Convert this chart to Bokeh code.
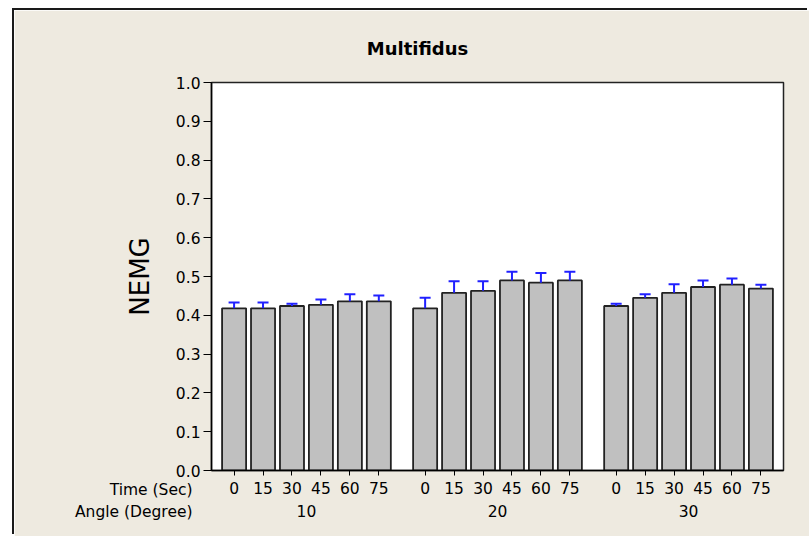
from bokeh.plotting import figure
from bokeh.models import (FactorRange, Range1d, ColumnDataSource, Whisker, TeeHead,
                          FixedTicker, PrintfTickFormatter, Label)
from bokeh.embed import file_html
from bokeh.resources import INLINE

# Normalised EMG of the multifidus by trunk angle and holding time
angles = ["10", "20", "30"]
times = ["0", "15", "30", "45", "60", "75"]

nemg_10 = [0.418, 0.418, 0.424, 0.427, 0.436, 0.436]
nemg_20 = [0.418, 0.458, 0.463, 0.490, 0.484, 0.490]
nemg_30 = [0.424, 0.445, 0.458, 0.473, 0.479, 0.469]

se_10 = [0.015, 0.015, 0.006, 0.014, 0.018, 0.015]
se_20 = [0.027, 0.030, 0.025, 0.022, 0.025, 0.022]
se_30 = [0.006, 0.009, 0.022, 0.017, 0.016, 0.010]

y_ticks = [0.0, 0.1, 0.2, 0.3, 0.4, 0.5, 0.6, 0.7, 0.8, 0.9, 1.0]

FONT = "DejaVu Sans"
BG = "#EEEAE0"

# group names carry a leading blank line so the angle row sits a little
# lower under the time row
factors, means, uppers = [], [], []
for a, m_list, s_list in zip(angles, [nemg_10, nemg_20, nemg_30], [se_10, se_20, se_30]):
    for t, m, s in zip(times, m_list, s_list):
        factors.append(("\n" + a, t))
        means.append(m)
        uppers.append(m + s)

src = ColumnDataSource(data=dict(x=factors, mean=means, upper=uppers))

x_range = FactorRange(*factors, factor_padding=0.0, group_padding=0.6,
                      range_padding=0.0292)

p = figure(x_range=x_range, y_range=Range1d(0, 1), title=None,
           width=795, height=526,
           output_backend="svg", toolbar_location=None,
           background_fill_color="white", border_fill_color=BG,
           min_border_left=197, min_border_top=72,
           min_border_right=26, min_border_bottom=66)
p.margin = (10, 0, 0, 14)
p.styles = {"box-shadow": "-2px -2px 0px 0px #1a1a1a"}

p.outline_line_color = "#222222"
p.outline_line_width = 1.5
p.grid.visible = False

p.vbar(x="x", top="mean", width=0.83, source=src,
       fill_color="#C0C0C0", line_color="#222222", line_width=1.8)

err = Whisker(base="x", lower="mean", upper="upper", source=src,
              line_color="#2020FF", line_width=2,
              upper_head=TeeHead(size=11, line_color="#2020FF", line_width=2),
              lower_head=None, level="overlay")
p.add_layout(err)

# y axis
ya = p.yaxis[0]
ya.ticker = FixedTicker(ticks=y_ticks)
ya.formatter = PrintfTickFormatter(format="%.1f")
ya.minor_tick_line_color = None
ya.major_tick_in = 0
ya.major_tick_out = 8
ya.major_label_standoff = 3
ya.major_label_text_font = FONT
ya.major_label_text_font_size = "15.5px"
ya.major_label_text_color = "black"
ya.axis_line_width = 1.5
ya.axis_line_color = "black"
ya.axis_label = "NEMG"
ya.axis_label_text_font = FONT
ya.axis_label_text_font_size = "26px"
ya.axis_label_text_font_style = "normal"
ya.axis_label_text_color = "black"
ya.axis_label_standoff = 18

# x axis: time within angle
xa = p.xaxis[0]
xa.major_tick_in = 0
xa.major_tick_out = 5
xa.major_label_standoff = 6
xa.major_label_text_font = FONT
xa.major_label_text_font_size = "15.5px"
xa.major_label_text_color = "black"
xa.group_text_font = FONT
xa.group_text_font_size = "15.5px"
xa.group_text_font_style = "normal"
xa.group_text_color = "black"
xa.group_text_line_height = 0.0
xa.separator_line_color = None
xa.axis_line_width = 1.5
xa.axis_line_color = "black"

# chart title and row captions for the two x-axis levels; they live in the
# top margin panel and are positioned on the y scale
p.add_layout(Label(x=206, y=1.088, x_units="screen", y_units="data",
                   text="Multifidus", text_align="center", text_baseline="middle",
                   text_font=FONT, text_font_size="18px", text_font_style="bold",
                   text_color="black"),
             "above")
for txt, yv in [("Time (Sec)", -0.0503), ("Angle (Degree)", -0.107)]:
    p.add_layout(Label(x=-19, y=yv, x_units="screen", y_units="data",
                       text=txt, text_align="right", text_baseline="middle",
                       text_font=FONT, text_font_size="15.5px", text_color="black"),
                 "above")

open("out.html", "w").write(file_html(p, INLINE))
